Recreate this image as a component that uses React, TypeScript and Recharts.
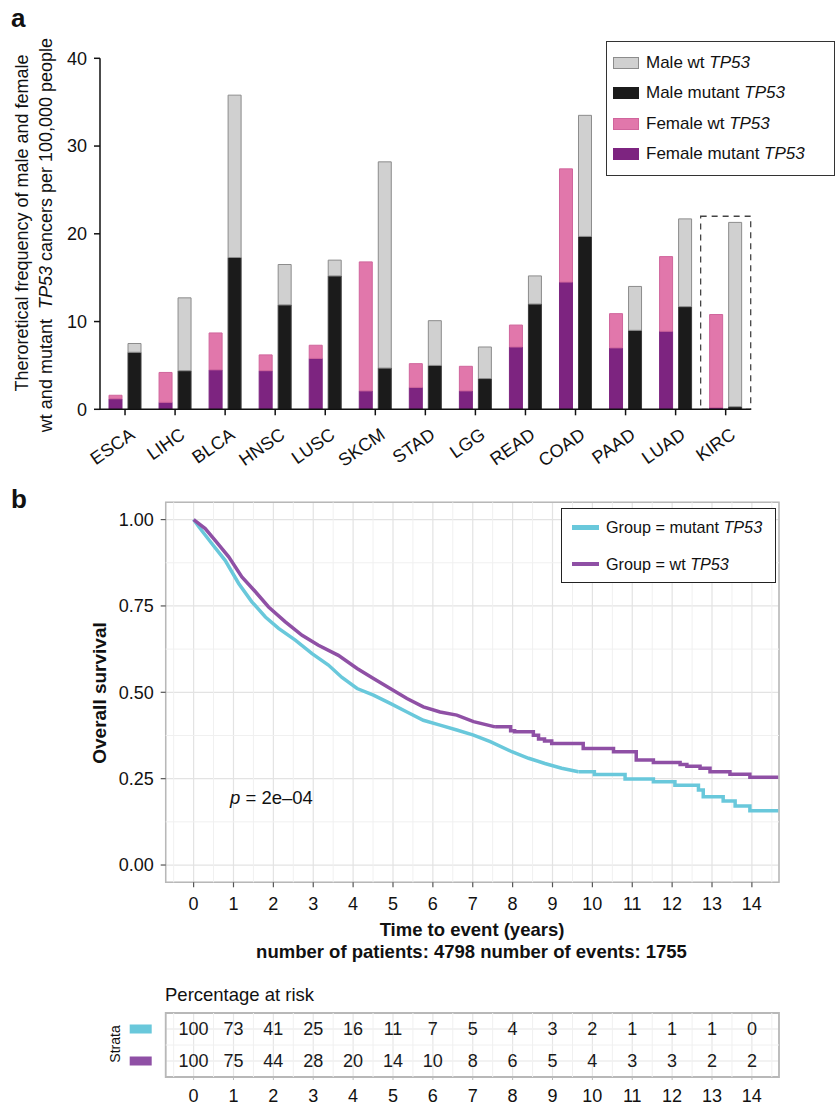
import React from 'react';
import {
  BarChart,
  Bar,
  XAxis,
  YAxis,
  ReferenceArea,
  LineChart,
  Line,
  CartesianGrid,
  ReferenceLine,
  ScatterChart,
  Scatter,
} from 'recharts';

const FONT = '"Liberation Sans", Arial, Helvetica, sans-serif';

// panel a: theoretical frequency per 100,000 people
const cancers = ['ESCA', 'LIHC', 'BLCA', 'HNSC', 'LUSC', 'SKCM', 'STAD', 'LGG', 'READ', 'COAD', 'PAAD', 'LUAD', 'KIRC'];
const femaleMutant = [1.2, 0.8, 4.5, 4.4, 5.8, 2.1, 2.5, 2.1, 7.1, 14.5, 7.0, 8.9, 0.2];
const femaleWt = [0.4, 3.4, 4.2, 1.8, 1.5, 14.7, 2.7, 2.8, 2.5, 12.9, 3.9, 8.5, 10.6];
const maleMutant = [6.5, 4.4, 17.3, 11.9, 15.2, 4.7, 5.0, 3.5, 12.0, 19.7, 9.0, 11.7, 0.3];
const maleWt = [1.0, 8.3, 18.5, 4.6, 1.8, 23.5, 5.1, 3.6, 3.2, 13.8, 5.0, 10.0, 21.0];
const freqTicks = [0, 10, 20, 30, 40];

// panel b: Kaplan-Meier curves [years, survival]
const mutantSmooth = [
  [0, 1.0], [0.13, 0.979], [0.46, 0.93], [0.79, 0.882], [1.13, 0.815], [1.46, 0.762],
  [1.8, 0.718], [2.13, 0.685], [2.55, 0.651], [2.97, 0.612], [3.38, 0.579], [3.72, 0.543],
  [4.1, 0.511], [4.51, 0.492], [4.93, 0.468], [5.35, 0.443], [5.76, 0.419], [6.18, 0.405],
  [6.6, 0.391], [7.02, 0.376], [7.44, 0.357], [7.98, 0.328], [8.4, 0.309], [8.81, 0.294],
  [9.23, 0.28], [9.65, 0.27],
];
const mutantSteps = [
  [9.65, 0.27], [10.05, 0.262], [10.82, 0.249], [11.53, 0.241], [12.07, 0.231], [12.66, 0.217],
  [12.78, 0.198], [13.28, 0.185], [13.58, 0.171], [13.95, 0.157], [14.66, 0.157],
];
const wtSmooth = [
  [0, 1.0], [0.29, 0.974], [0.54, 0.94], [0.88, 0.892], [1.21, 0.834], [1.55, 0.791],
  [1.88, 0.747], [2.3, 0.704], [2.72, 0.665], [3.13, 0.636], [3.63, 0.607], [4.1, 0.569],
  [4.51, 0.54], [4.93, 0.511], [5.35, 0.482], [5.76, 0.458], [6.18, 0.443], [6.6, 0.434],
  [7.02, 0.415], [7.56, 0.4],
];
const wtSteps = [
  [7.56, 0.4], [7.95, 0.389], [8.05, 0.386], [8.52, 0.376], [8.65, 0.365], [8.8, 0.359],
  [8.98, 0.352], [9.77, 0.337], [10.53, 0.328], [11.1, 0.304], [11.53, 0.297], [12.2, 0.291],
  [12.37, 0.286], [12.7, 0.28], [12.95, 0.27], [13.45, 0.263], [13.95, 0.254], [14.66, 0.254],
];
const years = [0, 1, 2, 3, 4, 5, 6, 7, 8, 9, 10, 11, 12, 13, 14];
const survTicks = [0, 0.25, 0.5, 0.75, 1];
const minorYears = [-0.5, 0.5, 1.5, 2.5, 3.5, 4.5, 5.5, 6.5, 7.5, 8.5, 9.5, 10.5, 11.5, 12.5, 13.5, 14.5];
const minorSurv = [0.125, 0.375, 0.625, 0.875];

// percentage at risk
const riskMutant = [100, 73, 41, 25, 16, 11, 7, 5, 4, 3, 2, 1, 1, 1, 0];
const riskWt = [100, 75, 44, 28, 20, 14, 10, 8, 6, 5, 4, 3, 3, 2, 2];

const C_FMUT = '#7D2480';
const C_FWT = '#E177AB';
const C_MMUT = '#1B1B1B';
const C_MWT = '#D0D0D0';
const CYAN = '#69C8DB';
const PURPLE = '#8F50A5';

const barData = cancers.map((c, i) => ({
  cancer: c,
  fMut: femaleMutant[i],
  fWt: femaleWt[i],
  mMut: maleMutant[i],
  mWt: maleWt[i],
}));

const toPts = (arr: number[][]) => arr.map(([t, s]) => ({ t, s }));

const riskData = (vals: number[], row: number) => years.map((t, i) => ({ t, row, v: vals[i] }));

const CatTick = (props: any) => {
  const { x, y, payload } = props;
  const ax = x + 11;
  const ay = y + 22;
  return (
    <text x={ax} y={ay} transform={`rotate(-35, ${ax}, ${ay})`} textAnchor="end" fontSize={18} fill="#111">
      {payload.value}
    </text>
  );
};

const StrataTick = (props: any) => {
  const { x, y, payload } = props;
  return <rect x={x - 22} y={y - 4.5} width={22} height={9} fill={payload.value === 2 ? CYAN : PURPLE} />;
};

const RiskText = (props: any) => (
  <text x={props.cx} y={props.cy} textAnchor="middle" dominantBaseline="central" fontSize={18} fill="#1a1a1a">
    {props.payload.v}
  </text>
);

const Rot = ({ cx, cy, size, bold, children }: any) => (
  <div
    style={{
      position: 'absolute',
      left: cx,
      top: cy,
      transform: 'translate(-50%, -50%) rotate(-90deg)',
      whiteSpace: 'nowrap',
      fontSize: size,
      fontWeight: bold ? 'bold' : 'normal',
      lineHeight: 1,
    }}
  >
    {children}
  </div>
);

const Centered = ({ cx, cy, size, bold, children }: any) => (
  <div
    style={{
      position: 'absolute',
      left: cx,
      top: cy,
      transform: 'translate(-50%, -50%)',
      whiteSpace: 'nowrap',
      fontSize: size,
      fontWeight: bold ? 'bold' : 'normal',
      lineHeight: 1,
    }}
  >
    {children}
  </div>
);

const legendA = [
  { label: 'Male wt ', fill: C_MWT, stroke: '#8c8c8c' },
  { label: 'Male mutant ', fill: C_MMUT, stroke: '#1b1b1b' },
  { label: 'Female wt ', fill: C_FWT, stroke: '#d0659c' },
  { label: 'Female mutant ', fill: C_FMUT, stroke: C_FMUT },
];

const legendB = [
  { label: 'Group = mutant ', color: CYAN },
  { label: 'Group = wt ', color: PURPLE },
];

export default function App() {
  return (
    <div
      style={{
        position: 'absolute',
        left: 0,
        top: 0,
        width: 835,
        height: 1105,
        background: '#fff',
        fontFamily: FONT,
        color: '#111',
        overflow: 'hidden',
      }}
    >
      {/* panel a */}
      <div style={{ position: 'absolute', left: 11, top: 3, fontSize: 26, fontWeight: 'bold' }}>a</div>
      <Rot cx={21.5} cy={222.5} size={18}>Theroretical frequency of male and female</Rot>
      <Rot cx={45.5} cy={235} size={18}>
        wt and mutant&nbsp; <i>TP53</i> cancers per 100,000 people
      </Rot>
      <div style={{ position: 'absolute', left: 0, top: 0 }}>
        <BarChart
          width={835}
          height={470}
          data={barData}
          margin={{ top: 58.3, right: 84.3, bottom: 0.7, left: 40 }}
          barSize={13}
          barGap={6}
          style={{ fontFamily: FONT }}
        >
          <XAxis
            dataKey="cancer"
            interval={0}
            height={60}
            tickSize={6}
            tickMargin={0}
            axisLine={{ stroke: '#111', strokeWidth: 1.5 }}
            tickLine={{ stroke: '#111', strokeWidth: 1.5 }}
            tick={<CatTick />}
          />
          <YAxis
            width={60}
            domain={[0, 40]}
            ticks={freqTicks}
            tickSize={6}
            tickMargin={7}
            axisLine={{ stroke: '#111', strokeWidth: 1.5 }}
            tickLine={{ stroke: '#111', strokeWidth: 1.5 }}
            tick={{ fill: '#111', fontSize: 18 }}
          />
          <Bar dataKey="fMut" stackId="f" fill={C_FMUT} stroke={C_FMUT} isAnimationActive={false} />
          <Bar dataKey="fWt" stackId="f" fill={C_FWT} stroke="#d0659c" isAnimationActive={false} />
          <Bar dataKey="mMut" stackId="m" fill={C_MMUT} stroke="#3a3a3a" isAnimationActive={false} />
          <Bar dataKey="mWt" stackId="m" fill={C_MWT} stroke="#8c8c8c" isAnimationActive={false} />
          <ReferenceArea
            x1="KIRC"
            x2="KIRC"
            y1={0}
            y2={22}
            fill="none"
            stroke="#444"
            strokeWidth={1.3}
            strokeDasharray="6 5"
            ifOverflow="visible"
          />
        </BarChart>
      </div>
      <div
        style={{
          position: 'absolute',
          left: 605.5,
          top: 40.5,
          width: 229,
          height: 135,
          boxSizing: 'border-box',
          border: '1px solid #333',
          background: '#fff',
        }}
      >
        {legendA.map((it, i) => (
          <div key={i} style={{ position: 'absolute', left: 6.5, top: 21.5 + i * 30.4 - 9, height: 18, display: 'flex', alignItems: 'center' }}>
            <div style={{ width: 26, height: 12, boxSizing: 'border-box', background: it.fill, border: `1px solid ${it.stroke}` }} />
            <span style={{ marginLeft: 7, fontSize: 17, whiteSpace: 'nowrap' }}>
              {it.label}
              <i>TP53</i>
            </span>
          </div>
        ))}
      </div>

      {/* panel b */}
      <div style={{ position: 'absolute', left: 11, top: 484, fontSize: 26, fontWeight: 'bold' }}>b</div>
      <Rot cx={98.5} cy={693} size={19} bold>
        Overall survival
      </Rot>
      <div style={{ position: 'absolute', left: 0, top: 480 }}>
        <LineChart
          width={835}
          height={440}
          margin={{ top: 22.3, right: 56, bottom: 7.7, left: 105.7 }}
          style={{ fontFamily: FONT }}
        >
          <CartesianGrid stroke="#e3e3e3" strokeWidth={1.2} />
          {minorYears.map((v) => (
            <ReferenceLine key={`mx${v}`} x={v} stroke="#f0f0f0" strokeWidth={1} />
          ))}
          {minorSurv.map((v) => (
            <ReferenceLine key={`my${v}`} y={v} stroke="#f0f0f0" strokeWidth={1} />
          ))}
          <XAxis
            dataKey="t"
            type="number"
            domain={[-0.7, 14.68]}
            allowDataOverflow
            ticks={years}
            interval={0}
            height={30}
            tickSize={5}
            tickMargin={10}
            axisLine={false}
            tickLine={{ stroke: '#555', strokeWidth: 1.2 }}
            tick={{ fill: '#111', fontSize: 18 }}
          />
          <YAxis
            type="number"
            domain={[-0.05, 1.05]}
            allowDataOverflow
            ticks={survTicks}
            tickFormatter={(v: number) => v.toFixed(2)}
            width={60}
            tickSize={5}
            tickMargin={7}
            axisLine={false}
            tickLine={{ stroke: '#555', strokeWidth: 1.2 }}
            tick={{ fill: '#111', fontSize: 18 }}
          />
          <ReferenceArea x1={-0.7} x2={14.68} y1={-0.05} y2={1.05} fill="none" stroke="#b8b8b8" strokeWidth={1.5} ifOverflow="visible" />
          <Line data={toPts(mutantSmooth)} dataKey="s" type="linear" stroke={CYAN} strokeWidth={3.5} dot={false} isAnimationActive={false} />
          <Line data={toPts(mutantSteps)} dataKey="s" type="stepAfter" stroke={CYAN} strokeWidth={3.5} dot={false} isAnimationActive={false} />
          <Line data={toPts(wtSmooth)} dataKey="s" type="linear" stroke={PURPLE} strokeWidth={3.5} dot={false} isAnimationActive={false} />
          <Line data={toPts(wtSteps)} dataKey="s" type="stepAfter" stroke={PURPLE} strokeWidth={3.5} dot={false} isAnimationActive={false} />
        </LineChart>
      </div>
      <div
        style={{
          position: 'absolute',
          left: 560.5,
          top: 507.5,
          width: 215.5,
          height: 75.5,
          boxSizing: 'border-box',
          border: '1.5px solid #222',
          background: '#fff',
        }}
      >
        {legendB.map((it, i) => (
          <div key={i} style={{ position: 'absolute', left: 10, top: 19 + i * 36.6 - 9, height: 18, display: 'flex', alignItems: 'center' }}>
            <div style={{ width: 27, height: 4.5, background: it.color }} />
            <span style={{ marginLeft: 7.5, fontSize: 16.2, whiteSpace: 'nowrap' }}>
              {it.label}
              <i>TP53</i>
            </span>
          </div>
        ))}
      </div>
      <div style={{ position: 'absolute', left: 230, top: 787, fontSize: 18.5, lineHeight: '22px', whiteSpace: 'nowrap' }}>
        <i>p</i> = 2e–04
      </div>
      <Centered cx={472} cy={930} size={18.5} bold>
        Time to event (years)
      </Centered>
      <Centered cx={471.5} cy={952} size={18.5} bold>
        number of patients: 4798 number of events: 1755
      </Centered>

      {/* risk table */}
      <div style={{ position: 'absolute', left: 165, top: 984, fontSize: 18.5, lineHeight: '22px', whiteSpace: 'nowrap' }}>
        Percentage at risk
      </div>
      <Rot cx={115} cy={1044} size={14}>
        Strata
      </Rot>
      <div style={{ position: 'absolute', left: 0, top: 990 }}>
        <ScatterChart width={835} height={135} margin={{ top: 23, right: 56, bottom: 20, left: 105.7 }} style={{ fontFamily: FONT }}>
          <CartesianGrid stroke="#e6e6e6" strokeWidth={1.2} />
          {minorYears.map((v) => (
            <ReferenceLine key={`rx${v}`} x={v} stroke="#f0f0f0" strokeWidth={1} />
          ))}
          <ReferenceLine y={1.5} stroke="#f0f0f0" strokeWidth={1} />
          <XAxis
            dataKey="t"
            type="number"
            domain={[-0.7, 14.68]}
            allowDataOverflow
            ticks={years}
            interval={0}
            height={28}
            tickSize={3}
            tickMargin={9}
            axisLine={false}
            tickLine={{ stroke: '#bbb' }}
            tick={{ fill: '#111', fontSize: 18 }}
          />
          <YAxis
            dataKey="row"
            type="number"
            domain={[0.5, 2.5]}
            ticks={[1, 2]}
            width={60}
            tickSize={0}
            tickMargin={14}
            axisLine={false}
            tickLine={false}
            tick={<StrataTick />}
          />
          <ReferenceArea x1={-0.7} x2={14.68} y1={0.5} y2={2.5} fill="none" stroke="#b8b8b8" strokeWidth={1.8} ifOverflow="visible" />
          <Scatter data={riskData(riskMutant, 2)} shape={<RiskText />} isAnimationActive={false} />
          <Scatter data={riskData(riskWt, 1)} shape={<RiskText />} isAnimationActive={false} />
        </ScatterChart>
      </div>
    </div>
  );
}
